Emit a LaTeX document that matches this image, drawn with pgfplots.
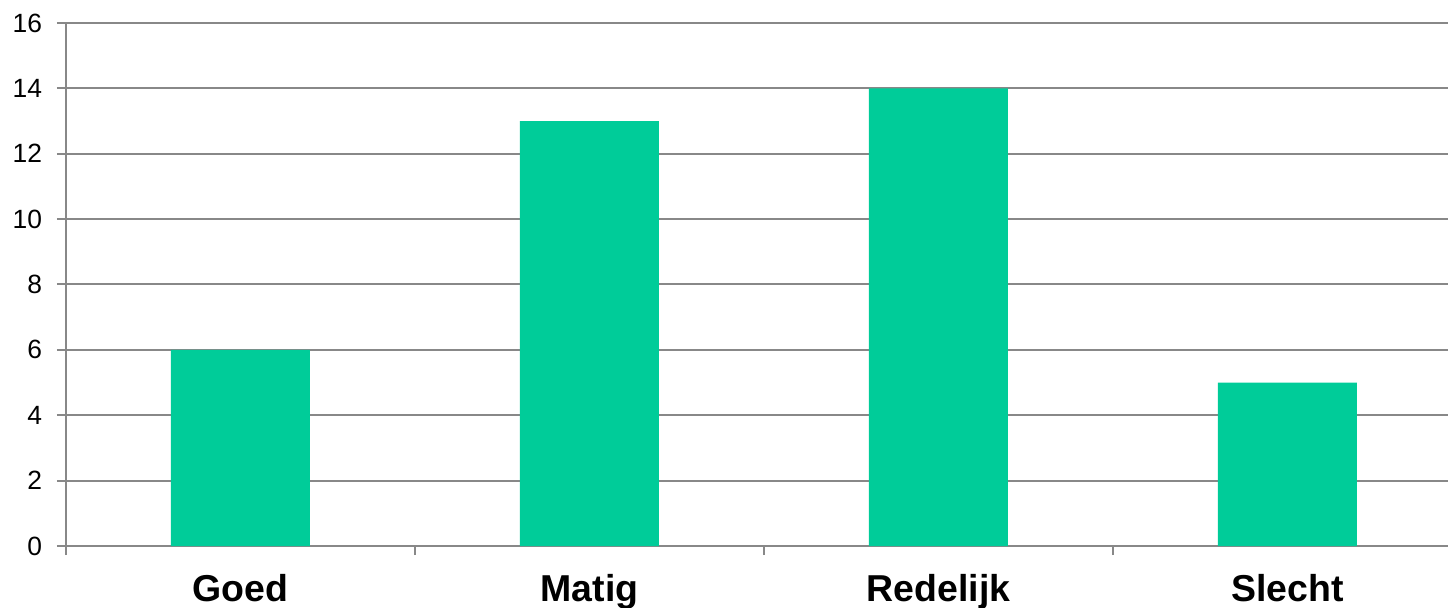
\documentclass[border=0pt]{standalone}
\usepackage{pgfplots}
\pgfplotsset{compat=1.18}
\usepackage{fontspec}
\setmainfont{Liberation Sans}
\definecolor{barcol}{HTML}{00CC99}
\definecolor{gridcol}{HTML}{888888}

\begin{document}
\begin{tikzpicture}
\path[use as bounding box] (0,0) rectangle (724bp,304bp);
\begin{axis}[
  at={(33bp,31bp)}, anchor=south west,
  scale only axis,
  width=691bp, height=261.5bp,
  xmin=-0.5, xmax=3.46,
  ymin=0, ymax=16,
  ytick={0,2,...,16},
  % tick marks on the category boundaries, names in the middle
  xtick={-0.5,0.5,1.5,2.5},
  xticklabels={},
  extra x ticks={0,1,2,3},
  extra x tick labels={Goed,Matig,Redelijk,Slecht},
  extra x tick style={major tick length=0pt, grid=none,
    xticklabel style={font=\fontsize{18.8}{22}\selectfont\bfseries, yshift=-10.5bp}},
  axis x line=bottom, axis y line=left,
  axis line style={gridcol, line width=1bp, -},
  ymajorgrids,
  grid style={gridcol, line width=1bp},
  tick style={gridcol, line width=1bp},
  tick align=outside,
  major tick length=4.5bp,
  yticklabel style={font=\fontsize{13.25}{15}\selectfont, xshift=-4bp},
  /pgf/number format/assume math mode=true,
  clip=false,
]
\addplot[ybar, bar width=69.5bp, fill=barcol, draw=none]
  coordinates {(0,6) (1,13) (2,14) (3,5)};
\end{axis}
\end{tikzpicture}
\end{document}
